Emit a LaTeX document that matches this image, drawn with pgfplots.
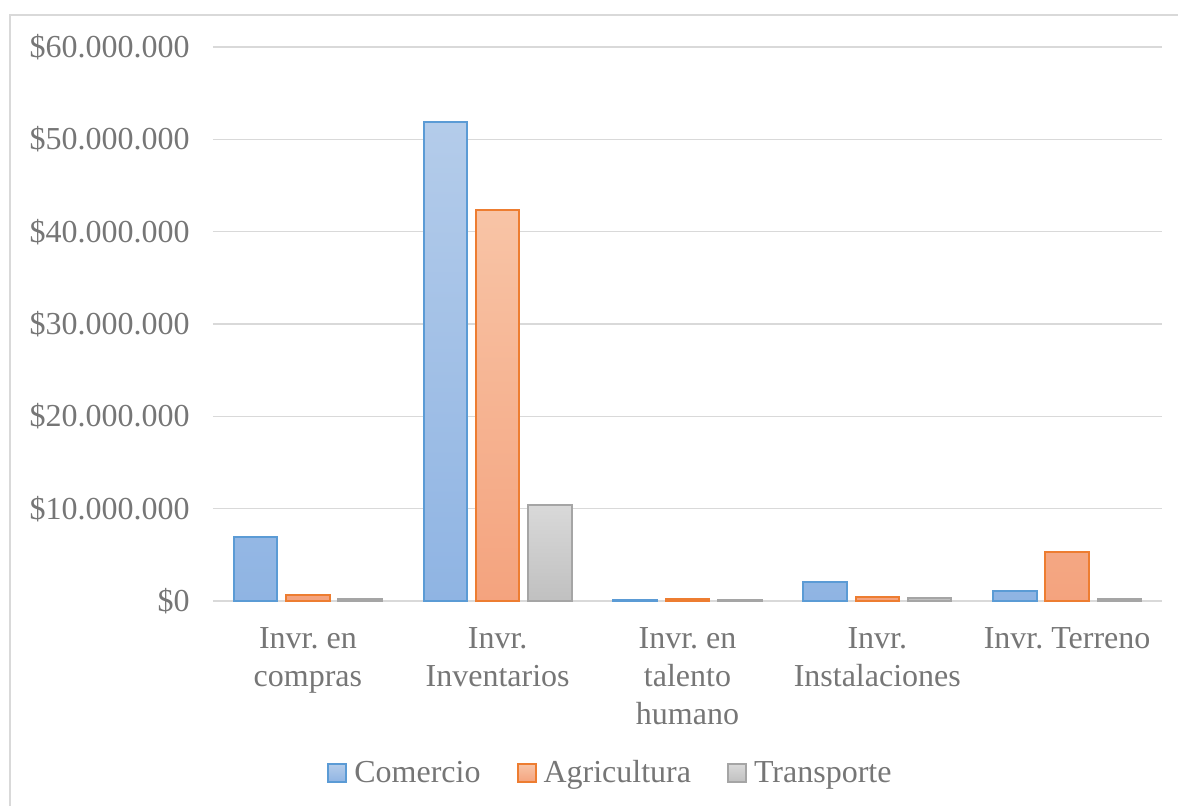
\documentclass[border=0pt]{standalone}
\usepackage{pgfplots}
\pgfplotsset{compat=1.18}
\usepackage{fontspec}
\setmainfont{Liberation Serif}
\frenchspacing

\definecolor{txt}{HTML}{767676}
\definecolor{gridc}{HTML}{D9D9D9}
\definecolor{comline}{HTML}{5B9BD5}
\definecolor{comtop}{HTML}{B4CCEA}
\definecolor{combot}{HTML}{8FB4E3}
\definecolor{agrline}{HTML}{ED7D31}
\definecolor{agrtop}{HTML}{F8C4A6}
\definecolor{agrbot}{HTML}{F4A37E}
\definecolor{traline}{HTML}{A5A5A5}
\definecolor{tratop}{HTML}{D9D9D9}
\definecolor{trabot}{HTML}{C0C0C0}

\pgfplotsset{
  mybar/.style={ybar, bar width=0.229, line width=1pt,
    legend image code/.code={\draw[##1, line width=1pt] (0pt,-3.5pt) rectangle (9pt,5.5pt);}},
}

\begin{document}
\begin{tikzpicture}
\useasboundingbox (0,0) rectangle (589pt,402.5pt);
\draw[color=gridc, line width=1pt] (5pt,-10pt) -- (5pt,395pt) -- (600pt,395pt);
\begin{axis}[
  at={(106.5pt,102pt)}, anchor=south west,
  scale only axis, width=474.5pt, height=277pt,
  xmin=-0.5, xmax=4.5, ymin=0, ymax=60000000,
  xtick={0,1,2,3,4},
  xticklabels={{Invr. en\\compras},{Invr.\\Inventarios},{Invr. en\\talento\\humano},{Invr.\\Instalaciones},{Invr. Terreno}},
  ytick={0,10000000,20000000,30000000,40000000,50000000,60000000},
  yticklabels={\$0,\$10.000.000,\$20.000.000,\$30.000.000,\$40.000.000,\$50.000.000,\$60.000.000},
  scaled y ticks=false,
  ymajorgrids, grid style={color=gridc, line width=0.75pt},
  axis line style={draw=none}, major tick length=0pt,
  tick label style={font=\fontsize{16}{19}\selectfont, text=txt},
  yticklabel style={anchor=east, inner sep=0pt, xshift=-11.5pt},
  xticklabel style={anchor=north, inner sep=0pt, align=center, yshift=-13.3pt},
  legend columns=-1,
  legend style={at={(0.1201,-0.3145)}, anchor=west, draw=none, fill=none,
    inner sep=0pt, font=\fontsize{16}{19}\selectfont, text=txt,
    nodes={inner sep=0pt, text height=11pt, text depth=3.5pt},
    /tikz/every odd column/.style={column sep=3.5pt},
    /tikz/every even column/.style={column sep=18pt}},
]
\addplot[mybar, bar shift=-0.2755, draw=comline, top color=comtop, bottom color=combot]
  coordinates {(0,6900000) (1,51850000) (2,120000) (3,2100000) (4,1040000)};
\addplot[mybar, bar shift=0, draw=agrline, top color=agrtop, bottom color=agrbot]
  coordinates {(0,700000) (1,42400000) (2,220000) (3,470000) (4,5300000)};
\addplot[mybar, bar shift=0.2755, draw=traline, top color=tratop, bottom color=trabot]
  coordinates {(0,180000) (1,10450000) (2,120000) (3,280000) (4,250000)};
\legend{Comercio,Agricultura,Transporte}
\end{axis}
\end{tikzpicture}
\end{document}
